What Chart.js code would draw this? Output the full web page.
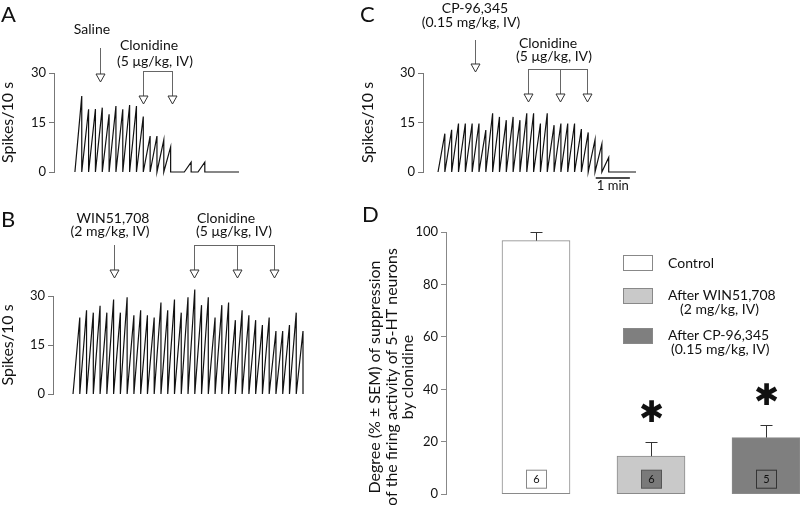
<!DOCTYPE html>
<html>
<head>
<meta charset="utf-8">
<script src="https://cdn.jsdelivr.net/npm/chart.js@4.4.1/dist/chart.umd.min.js"></script>
<style>
body { margin: 0; background: #fff; width: 800px; height: 505px; overflow: hidden; position: relative; }
canvas { position: absolute; }
</style>
</head>
<body>
<canvas id="chA" width="260" height="190" style="left:0;top:0"></canvas>
<canvas id="chB" width="330" height="210" style="left:0;top:195px"></canvas>
<canvas id="chC" width="280" height="195" style="left:360px;top:0"></canvas>
<canvas id="chD" width="440" height="305" style="left:360px;top:200px"></canvas>
<script>
// spikes per 10 s bin
var binsA = [23, 19, 19.1, 19.5, 17.5, 20, 19, 20.3, 20, 16.8, 10.9, 10.9, 9.7, 7.6, 0, 0, 3, 0, 3, 0, 0, 0, 0, 0];
var binsB = [23.4, 25.6, 24.9, 27, 24.9, 28.9, 24.9, 29.6, 24.1, 25.6, 24.1, 23.4, 28, 25.6, 28.9, 24.9, 29.6,
             32, 27.2, 29.6, 23.4, 27.2, 28, 22.6, 25.6, 24.1, 22.6, 21.1, 23.4, 19.3, 19.3, 21.1, 24.9, 19.3];
var binsC = [11.6, 12.8, 14.7, 14.7, 14.7, 14.7, 12.7, 17.8, 16.7, 15.7, 16.7, 15.7, 17.8, 17.8, 14.7, 17.8,
             14.2, 14.7, 14.7, 14.7, 13, 12, 9.8, 8.5, 4.4, 0, 0, 0, 0];
var spikeTicks = [0, 15, 30];

// panel D
var groups = ['Control', 'After WIN51,708', 'After CP-96,345'];
var groupDose = ['', '(2 mg/kg, IV)', '(0.15 mg/kg, IV)'];
var suppression = [96.7, 14.5, 21.6];
var sem = [3.3, 5.5, 4.8];
var nCells = [6, 6, 5];
var signif = [false, true, true];
var pctTicks = [0, 20, 40, 60, 80, 100];

var FONT = 'Lato, "Open Sans", sans-serif';

function sawtooth(vals) {
    var pts = [];
    vals.forEach(function(v, i) {
        pts.push({x: i, y: 0}, {x: i + 1, y: v}, {x: i + 1, y: 0});
    });
    return pts;
}

function head(ctx, x, tip) {
    ctx.beginPath();
    ctx.moveTo(x - 4.5, tip - 8);
    ctx.lineTo(x + 4.5, tip - 8);
    ctx.lineTo(x, tip);
    ctx.closePath();
    ctx.fillStyle = '#fff';
    ctx.fill();
    ctx.strokeStyle = '#333';
    ctx.lineWidth = 1;
    ctx.stroke();
}

// arrows, labels and panel letter on top of a trace
function notesPlugin(n) {
    return {
        id: 'notes',
        afterDraw: function(chart) {
            var ctx = chart.ctx, xs = chart.scales.x;
            ctx.save();
            ctx.fillStyle = '#111';
            ctx.font = '22px ' + FONT;
            ctx.textBaseline = 'alphabetic';
            ctx.textAlign = 'left';
            ctx.fillText(n.letter[0], n.letter[1], n.letter[2]);
            ctx.font = '14px ' + FONT;
            ctx.textAlign = 'center';
            ctx.textBaseline = 'middle';
            n.texts.forEach(function(t) { ctx.fillText(t[0], t[1], t[2]); });
            ctx.lineWidth = 1;
            n.arrows.forEach(function(a) {
                var x = Math.round(xs.getPixelForValue(a.x)) + 0.5;
                ctx.strokeStyle = '#666';
                ctx.beginPath(); ctx.moveTo(x, a.y0); ctx.lineTo(x, a.y1 - 8); ctx.stroke();
                head(ctx, x, a.y1);
            });
            n.brackets.forEach(function(b) {
                var px = b.xs.map(function(v) { return Math.round(xs.getPixelForValue(v)) + 0.5; });
                ctx.strokeStyle = '#666';
                ctx.beginPath();
                ctx.moveTo(px[0], b.y + 0.5); ctx.lineTo(px[px.length - 1], b.y + 0.5);
                px.forEach(function(x) { ctx.moveTo(x, b.y); ctx.lineTo(x, b.y1 - 8); });
                ctx.stroke();
                px.forEach(function(x) { head(ctx, x, b.y1); });
            });
            if (n.bar) {
                var x0 = xs.getPixelForValue(n.bar.x0), x1 = xs.getPixelForValue(n.bar.x1);
                ctx.strokeStyle = '#111';
                ctx.lineWidth = 1.5;
                ctx.beginPath(); ctx.moveTo(x0, n.bar.y); ctx.lineTo(x1, n.bar.y); ctx.stroke();
                ctx.fillStyle = '#111';
                ctx.font = '13px ' + FONT;
                ctx.fillText(n.bar.label, (x0 + x1) / 2, n.bar.ly);
            }
            ctx.restore();
        }
    };
}

function traceChart(id, vals, box, notes) {
    new Chart(document.getElementById(id), {
        type: 'line',
        data: {
            datasets: [{
                data: sawtooth(vals),
                borderColor: '#111',
                borderWidth: 1.2,
                pointRadius: 0,
                tension: 0,
                clip: false
            }]
        },
        options: {
            responsive: false,
            animation: false,
            layout: { padding: box.pad },
            plugins: { legend: { display: false }, tooltip: { enabled: false } },
            scales: {
                x: { type: 'linear', min: box.xmin, max: vals.length, display: false },
                y: {
                    min: 0, max: 30,
                    afterFit: function(s) { s.width = box.axisW; },
                    afterBuildTicks: function(s) { s.ticks = spikeTicks.map(function(v) { return {value: v}; }); },
                    border: { color: '#777', width: 1 },
                    grid: { drawOnChartArea: false, tickLength: 5, color: '#777' },
                    ticks: { font: { family: FONT, size: 13 }, color: '#111', padding: 3 },
                    title: { display: true, text: 'Spikes/10 s', font: { family: FONT, size: 16 }, color: '#111', padding: { top: -2, bottom: 0 } }
                }
            }
        },
        plugins: [notesPlugin(notes)]
    });
}

traceChart('chA', binsA, { pad: { left: 0, top: 73, right: 21, bottom: 18 }, axisW: 54, xmin: -3.06 }, {
    letter: ['A', 1, 22],
    texts: [['Saline', 92, 29], ['Clonidine', 149, 45], ['(5 \u03bcg/kg, IV)', 155, 61]],
    arrows: [{ x: 3.72, y0: 48, y1: 82 }],
    brackets: [{ xs: [10.0, 14.2], y: 71, y1: 104 }]
});

traceChart('chB', binsB, { pad: { left: 0, top: 101, right: 27, bottom: 11 }, axisW: 53, xmin: -2.96 }, {
    letter: ['B', 1, 32],
    texts: [['WIN51,708', 113, 23], ['(2 mg/kg, IV)', 110, 36], ['Clonidine', 226, 23], ['(5 \u03bcg/kg, IV)', 234, 36]],
    arrows: [{ x: 6.02, y0: 50, y1: 83 }],
    brackets: [{ xs: [17.86, 24.2, 29.7], y: 50, y1: 83 }]
});

traceChart('chC', binsC, { pad: { left: 0, top: 73, right: 4, bottom: 23 }, axisW: 63, xmin: -2.2 }, {
    letter: ['C', 0, 22],
    texts: [['CP-96,345', 115, 8], ['(0.15 mg/kg, IV)', 111, 22], ['Clonidine', 188, 43], ['(5 \u03bcg/kg, IV)', 194, 56]],
    arrows: [{ x: 5.45, y0: 40, y1: 72 }],
    brackets: [{ xs: [13.24, 17.8, 21.8], y: 69, y1: 102 }],
    bar: { x0: 23.1, x1: 28.1, y: 178, label: '1 min', ly: 186 }
});

// panel D: bars, error bars, n boxes, asterisks, legend, axis title
var barFill = ['#ffffff', '#c9c9c9', '#7f7f7f'];
var nFill = ['#ffffff', '#7a7a7a', '#7f7f7f'];
var nEdge = ['#888', '#555', '#333'];

var extrasD = {
    id: 'extrasD',
    afterDraw: function(chart) {
        var ctx = chart.ctx, xs = chart.scales.x, ys = chart.scales.y;
        ctx.save();
        var y0 = ys.getPixelForValue(0);
        suppression.forEach(function(v, i) {
            var x = Math.round(xs.getPixelForValue(i + 1)) + 0.5;
            var yb = ys.getPixelForValue(v), yt = Math.round(ys.getPixelForValue(v + sem[i])) + 0.5;
            ctx.strokeStyle = '#333';
            ctx.lineWidth = 1;
            ctx.beginPath();
            ctx.moveTo(x, yb); ctx.lineTo(x, yt);
            ctx.moveTo(x - 6, yt); ctx.lineTo(x + 6, yt);
            ctx.stroke();
            // n box
            ctx.fillStyle = nFill[i];
            ctx.fillRect(x - 10, y0 - 24, 20, 18);
            ctx.strokeStyle = nEdge[i];
            ctx.strokeRect(x - 10, y0 - 24, 20, 18);
            ctx.fillStyle = '#111';
            ctx.font = '11px ' + FONT;
            ctx.textAlign = 'center';
            ctx.textBaseline = 'middle';
            ctx.fillText(String(nCells[i]), x, y0 - 15);
            if (signif[i]) {
                ctx.font = 'bold 30px "DejaVu Sans"';
                ctx.fillText('\u2731', x, yt - 28);
            }
        });
        // legend
        var ly = [55, 88, 128];
        groups.forEach(function(g, i) {
            ctx.fillStyle = barFill[i];
            ctx.fillRect(263.5, ly[i] + 0.5, 29, 15);
            ctx.strokeStyle = '#888';
            ctx.strokeRect(263.5, ly[i] + 0.5, 29, 15);
            ctx.fillStyle = '#111';
            ctx.font = '14px ' + FONT;
            ctx.textAlign = 'left';
            ctx.textBaseline = 'middle';
            ctx.fillText(g, 308, ly[i] + 8 - (groupDose[i] ? 1 : 0));
            if (groupDose[i]) ctx.fillText(groupDose[i], i === 1 ? 320 : 311, ly[i] + 21);
        });
        // rotated axis title
        ctx.translate(0, 177);
        ctx.rotate(-Math.PI / 2);
        ctx.textAlign = 'center';
        ctx.font = '16px ' + FONT;
        ctx.fillText('Degree (% \u00b1 SEM) of suppression', 0, 15);
        ctx.fillText('of the firing activity of 5-HT neurons', 0, 32);
        ctx.fillText('by clonidine', 0, 48);
        ctx.restore();
        ctx.save();
        ctx.fillStyle = '#111';
        ctx.font = '22px ' + FONT;
        ctx.fillText('D', 2, 22);
        ctx.restore();
    }
};

new Chart(document.getElementById('chD'), {
    type: 'bar',
    data: {
        datasets: [{
            data: suppression.map(function(v, i) { return {x: i + 1, y: v}; }),
            backgroundColor: barFill,
            borderColor: '#8a8a8a',
            borderWidth: 1,
            borderSkipped: false,
            barThickness: 68
        }]
    },
    options: {
        responsive: false,
        animation: false,
        layout: { padding: { left: 0, top: 32, right: 0, bottom: 4 } },
        plugins: { legend: { display: false }, tooltip: { enabled: false } },
        scales: {
            x: { type: 'linear', min: 0.2174, max: 3.2957, display: false, offset: false },
            y: {
                min: 0, max: 100,
                afterFit: function(s) { s.width = 86; },
                afterBuildTicks: function(s) { s.ticks = pctTicks.map(function(v) { return {value: v}; }); },
                border: { color: '#888', width: 1 },
                grid: { drawOnChartArea: false, tickLength: 5, color: '#888' },
                ticks: { font: { family: FONT, size: 13 }, color: '#111', padding: 3 }
            }
        }
    },
    plugins: [extrasD]
});
</script>
</body>
</html>
